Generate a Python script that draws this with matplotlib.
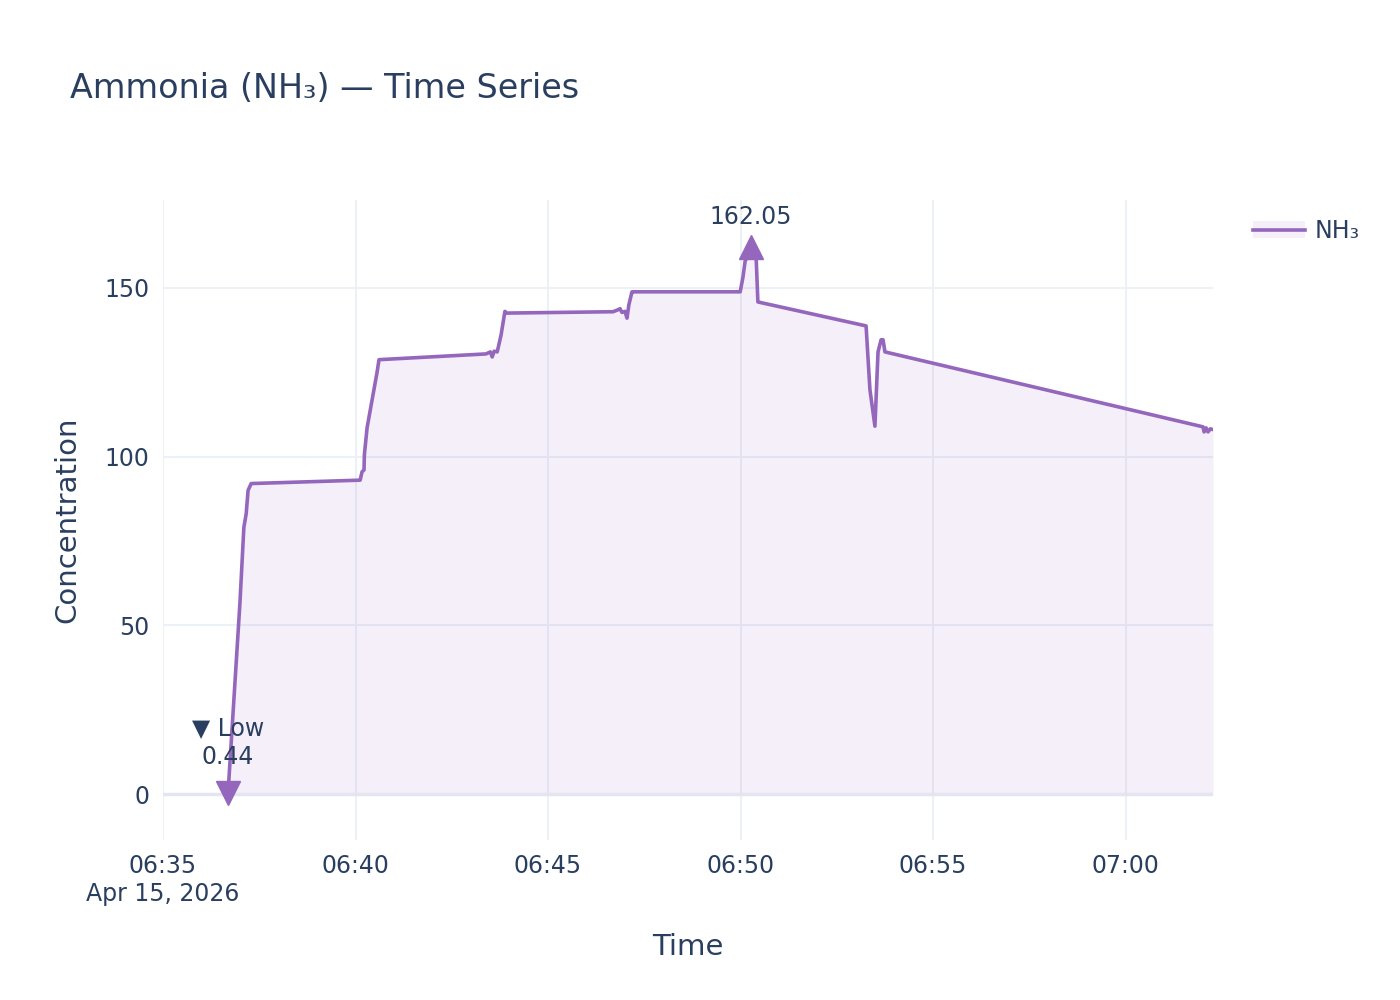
import matplotlib
matplotlib.use("Agg")
import matplotlib.pyplot as plt
from matplotlib.lines import Line2D
from matplotlib.patches import Patch
import pandas as pd

start = pd.Timestamp("2026-04-15 06:35:00")
minutes = [1.69, 2.0, 2.1, 2.16, 2.21, 2.29, 5.12, 5.17, 5.22, 5.23, 5.3, 5.56, 5.61,
           8.39, 8.5, 8.55, 8.6, 8.68, 8.78, 8.88, 8.93, 11.69, 11.82, 11.87, 11.92,
           12.0, 12.05, 12.1, 12.18, 12.22, 14.99, 15.06, 15.12, 15.2, 15.24, 15.27,
           15.32, 15.4, 15.45, 18.26, 18.36, 18.49, 18.57, 18.65, 18.7, 18.75,
           27.01, 27.04, 27.09, 27.14, 27.2, 27.27]
values = [0.44, 57, 79, 83, 90, 92, 93, 95.5, 96, 100.5, 108.5, 125, 128.7,
          130.4, 131, 129.5, 131.2, 131, 136, 143, 142.5, 142.9, 143.5, 143.8, 142.7,
          143, 141, 145, 148.8, 148.8, 148.8, 153, 158, 159.5, 159.2, 162.05,
          160.3, 160.4, 145.8, 138.7, 119.8, 109, 131, 134.6, 134.6, 131,
          108.8, 107.3, 108.5, 107.3, 108.2, 108]
times = [start + pd.Timedelta(minutes=m) for m in minutes]
x_end = start + pd.Timedelta(minutes=27.27)
tick_labels = ["06:35\nApr 15, 2026", "06:40", "06:45", "06:50", "06:55", "07:00"]
ticks = [start + pd.Timedelta(minutes=5 * i) for i in range(6)]

line_c = "#9467bd"
text_c = "#2a3f5f"
grid_c = "#ebf0f8"

fig = plt.figure(figsize=(14, 10), dpi=100)
ax = fig.add_axes([163 / 1400, 1 - 840 / 1000, 1050 / 1400, 640 / 1000])
for s in ax.spines.values():
    s.set_visible(False)
ax.fill_between(times, values, 0, color=line_c, alpha=0.1, linewidth=0)
ax.plot(times, values, color=line_c, lw=2.6, zorder=3)
ax.axhline(0, color="#e3e6f0", lw=2.5, zorder=1)

imax = values.index(max(values))
imin = values.index(min(values))
ax.plot(times[imax], values[imax], marker="^", ms=17, color=line_c, zorder=4, clip_on=False)
ax.plot(times[imin], values[imin], marker="v", ms=17, color=line_c, zorder=4, clip_on=False)
ax.annotate(f"{values[imax]:.2f}", (times[imax], values[imax]), xytext=(0, 22),
            textcoords="offset points", ha="center", va="center", fontsize=17, color=text_c)
ax.annotate(f"▼ Low\n{values[imin]:.2f}", (times[imin], values[imin]), xytext=(0, 36),
            textcoords="offset points", ha="center", va="center", fontsize=17,
            color=text_c, linespacing=1.25)

ax.set_xlim(start, x_end)
ax.set_ylim(-13.6, 176)
ax.set_xticks(ticks)
ax.set_xticklabels(tick_labels)
ax.set_yticks([0, 50, 100, 150])
ax.grid(True, color=grid_c, lw=1.3)
ax.set_axisbelow(True)
ax.tick_params(length=0, labelsize=17, labelcolor=text_c, pad=10)
ax.set_xlabel("Time", fontsize=21, color=text_c, labelpad=20)
ax.set_ylabel("Concentration", fontsize=21, color=text_c, labelpad=16)
fig.text(70 / 1400, 1 - 88 / 1000, "Ammonia (NH₃) — Time Series", fontsize=24,
         color=text_c, va="center", ha="left")

handle = (Patch(color=line_c, alpha=0.1, lw=0), Line2D([], [], color=line_c, lw=2.6))
fig.legend([handle], ["NH₃"], loc="center left", bbox_to_anchor=(1232 / 1400, 1 - 231 / 1000),
           frameon=False, fontsize=17, labelcolor=text_c, handlelength=2.2, handletextpad=0.4)
fig.savefig("out.png", dpi=100, facecolor="white")
